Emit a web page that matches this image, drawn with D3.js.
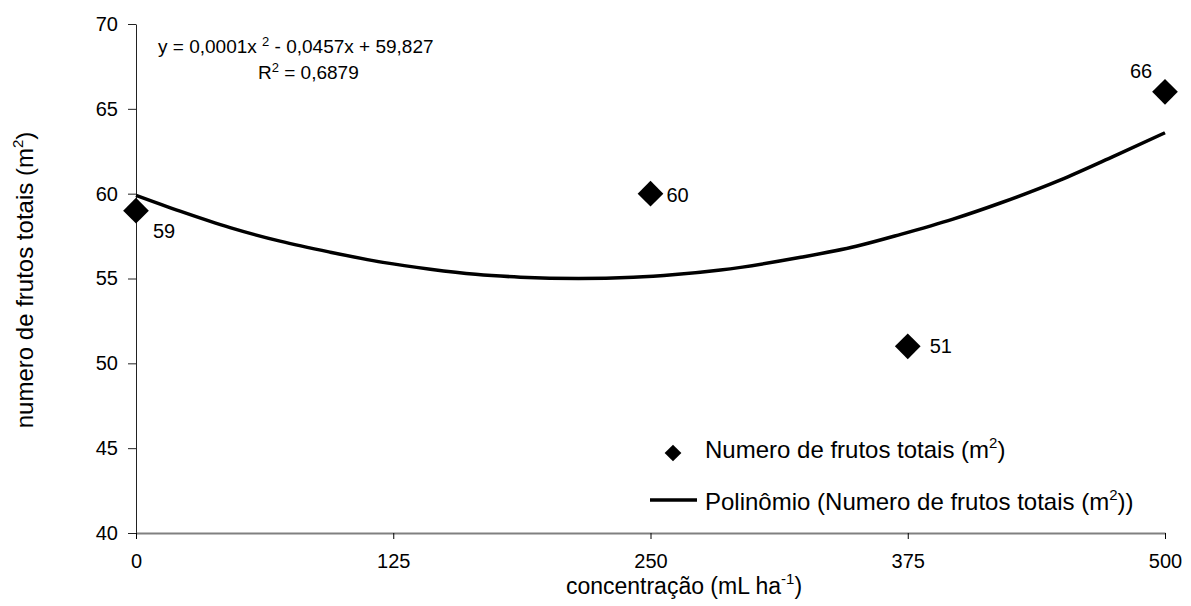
<!DOCTYPE html>
<html>
<head>
<meta charset="utf-8">
<script src="https://cdn.jsdelivr.net/npm/d3@7"></script>
<style>
  html, body { margin: 0; padding: 0; background: #fff; }
  svg { display: block; font-family: "Liberation Sans", Arial, sans-serif; }
</style>
</head>
<body>
<svg id="chart" width="1191" height="606"></svg>
<script>
// Observed totals per concentration
const concentrations = [0, 250, 375, 500];
const fruitTotals = [59, 60, 51, 66];

// Quadratic trendline, sampled along the concentration range
const trendX = [0, 21.4, 45.7, 70, 94.4, 120, 143, 165, 186.8, 215, 241.7, 262, 284, 323, 350, 371.6, 397, 420, 449, 475, 500];
const trendY = [59.9, 58.97, 58.0, 57.2, 56.55, 55.95, 55.55, 55.25, 55.08, 55.0, 55.07, 55.23, 55.5, 56.25, 56.9, 57.6, 58.5, 59.45, 60.8, 62.2, 63.59];

const xTicks = [0, 125, 250, 375, 500];
const yTicks = [40, 45, 50, 55, 60, 65, 70];

const svg = d3.select("#chart");
const plotLeft = 136, plotRight = 1165, plotTop = 24, plotBottom = 533;

const x = d3.scaleLinear().domain([0, 500]).range([plotLeft, plotRight]);
const y = d3.scaleLinear().domain([40, 70]).range([plotBottom, plotTop]);

// Y axis
const yAxis = svg.append("g")
  .attr("transform", `translate(${plotLeft},0)`)
  .call(d3.axisLeft(y).tickValues(yTicks).tickSize(8).tickSizeOuter(0).tickPadding(10).tickFormat(d3.format("d")));
yAxis.select(".domain").attr("stroke", "#222").attr("stroke-width", 1);
yAxis.selectAll(".tick line").attr("stroke", "#222");
yAxis.selectAll(".tick text").attr("font-size", 20).attr("fill", "#000")
  .attr("font-family", "'Liberation Sans', Arial, sans-serif");

// X axis
const xAxis = svg.append("g")
  .attr("transform", `translate(0,${plotBottom})`)
  .call(d3.axisBottom(x).tickValues(xTicks).tickSize(6).tickSizeOuter(0).tickPadding(15).tickFormat(d3.format("d")));
xAxis.select(".domain").attr("stroke", "#808080").attr("stroke-width", 2);
xAxis.selectAll(".tick line").attr("stroke", "#000");
xAxis.selectAll(".tick text").attr("font-size", 20).attr("fill", "#000")
  .attr("font-family", "'Liberation Sans', Arial, sans-serif");

// Trendline
const trend = trendX.map((v, i) => [v, trendY[i]]);
svg.append("path")
  .datum(trend)
  .attr("fill", "none")
  .attr("stroke", "#000")
  .attr("stroke-width", 3.5)
  .attr("stroke-linejoin", "round")
  .attr("d", d3.line().x(d => x(d[0])).y(d => y(d[1])).curve(d3.curveMonotoneX));

// Diamond markers
const diamond = d3.symbol().type(d3.symbolSquare).size(330);
const points = concentrations.map((c, i) => ({ c, v: fruitTotals[i] }));
svg.append("g").selectAll("path")
  .data(points)
  .join("path")
  .attr("d", diamond)
  .attr("transform", d => `translate(${x(d.c)},${y(d.v)}) rotate(45)`)
  .attr("fill", "#000");

// Value labels
const labelOffsets = [[17, 27], [16, 8], [22, 7], [-35, -14]];
svg.append("g").selectAll("text")
  .data(points)
  .join("text")
  .attr("x", (d, i) => x(d.c) + labelOffsets[i][0])
  .attr("y", (d, i) => y(d.v) + labelOffsets[i][1])
  .attr("font-size", 20)
  .text(d => d.v);

// Equation and R²
const eq = svg.append("text").attr("x", 158).attr("y", 53).attr("font-size", 19);
eq.append("tspan").text("y = 0,0001x ");
eq.append("tspan").attr("dy", -7).attr("font-size", 13).text("2");
eq.append("tspan").attr("dy", 7).text(" - 0,0457x + 59,827");

const r2 = svg.append("text").attr("x", 258).attr("y", 79).attr("font-size", 19);
r2.append("tspan").text("R");
r2.append("tspan").attr("dy", -7).attr("font-size", 13).text("2");
r2.append("tspan").attr("dy", 7).text(" = 0,6879");

// Legend
svg.append("path")
  .attr("d", d3.symbol().type(d3.symbolSquare).size(140))
  .attr("transform", "translate(673,453) rotate(45)")
  .attr("fill", "#000");
const l1 = svg.append("text").attr("x", 705).attr("y", 458).attr("font-size", 24);
l1.append("tspan").text("Numero de frutos totais (m");
l1.append("tspan").attr("dy", -10).attr("font-size", 15).text("2");
l1.append("tspan").attr("dy", 10).text(")");

svg.append("line")
  .attr("x1", 650).attr("x2", 697).attr("y1", 500).attr("y2", 500)
  .attr("stroke", "#000").attr("stroke-width", 3.5);
const l2 = svg.append("text").attr("x", 705).attr("y", 510).attr("font-size", 24);
l2.append("tspan").text("Polinômio (Numero de frutos totais (m");
l2.append("tspan").attr("dy", -10).attr("font-size", 15).text("2");
l2.append("tspan").attr("dy", 10).text("))");

// Axis titles
const xt = svg.append("text").attr("x", 684).attr("y", 594).attr("font-size", 23).attr("text-anchor", "middle");
xt.append("tspan").text("concentração (mL ha");
xt.append("tspan").attr("dy", -10).attr("font-size", 15).text("-1");
xt.append("tspan").attr("dy", 10).text(")");

const yt = svg.append("text")
  .attr("transform", "translate(33,280) rotate(-90)")
  .attr("font-size", 24).attr("text-anchor", "middle");
yt.append("tspan").text("numero de frutos totais (m");
yt.append("tspan").attr("dy", -10).attr("font-size", 15).text("2");
yt.append("tspan").attr("dy", 10).text(")");
</script>
</body>
</html>
